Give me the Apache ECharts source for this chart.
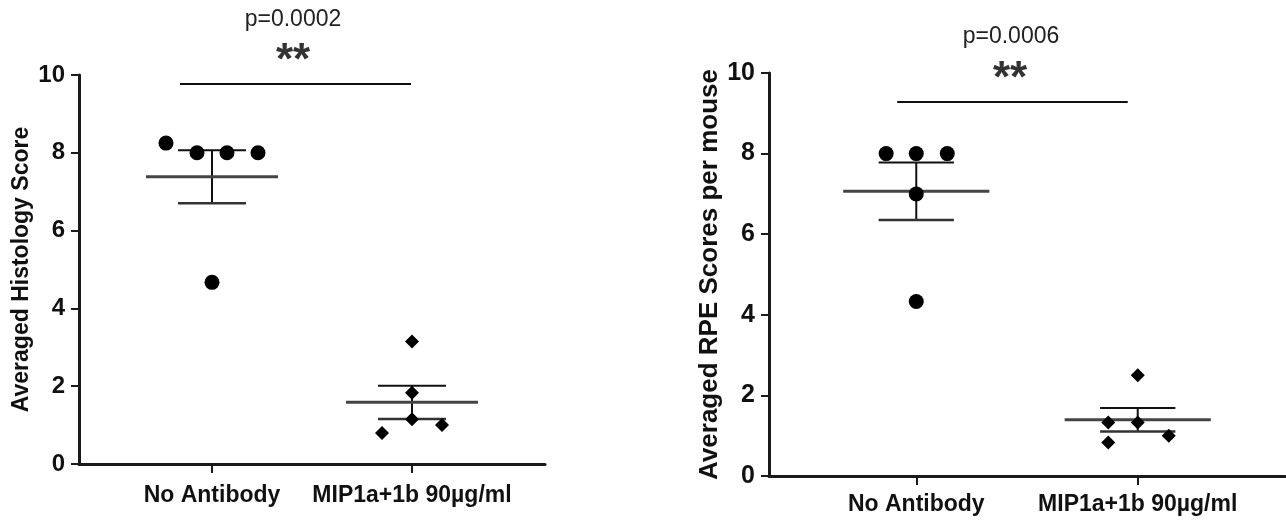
<!DOCTYPE html>
<html>
<head>
<meta charset="utf-8">
<script src="https://cdn.jsdelivr.net/npm/echarts@6/dist/echarts.min.js"></script>
<style>
html,body{margin:0;padding:0;background:#fff;}
#chart{width:1286px;height:521px;}
</style>
</head>
<body>
<div id="chart"></div>
<script>
// ---- data ----
const categories = ['No Antibody', 'MIP1a+1b 90µg/ml'];
const yTicks = [0, 2, 4, 6, 8, 10];

// Left panel: Averaged Histology Score
const histNoAb = [8.25, 8, 8, 8, 4.67];
const histNoAbJitter = [-0.23, -0.075, 0.075, 0.23, 0];
const histMIP = [3.15, 1.83, 1.15, 0.8, 1.0];
const histMIPJitter = [0, 0, 0, -0.15, 0.15];
const histP = 'p=0.0002';
const histBracketX = [0.84, 1.995];
const histBracketY = 9.77;

// Right panel: Averaged RPE Scores per mouse
const rpeNoAb = [8, 8, 8, 7, 4.33];
const rpeNoAbJitter = [-0.136, 0, 0.14, 0, 0];
const rpeMIP = [2.5, 1.33, 1.33, 0.83, 1.0];
const rpeMIPJitter = [0, -0.133, 0, -0.133, 0.14];
const rpeP = 'p=0.0006';
const rpeBracketX = [0.914, 1.955];
const rpeBracketY = 9.28;

// ---- helpers ----
function mean(a){ return a.reduce((s,v)=>s+v,0)/a.length; }
function sem(a){
  const m = mean(a);
  const v = a.reduce((s,x)=>s+(x-m)*(x-m),0)/(a.length-1);
  return Math.sqrt(v/a.length);
}
function pts(vals, jit, catIdx){
  return vals.map((v,i)=>[catIdx+1+jit[i], v]);
}
const FONT = "'Liberation Sans', Arial, sans-serif";
const AX = '#1a1a1a';

function renderMeanSem(params, api){
  const x = api.value(0), m = api.value(1), s = api.value(2);
  const hm = 0.33, hc = 0.17;
  const a = api.coord([x-hm, m]), b = api.coord([x+hm, m]);
  const t = api.coord([x, m+s]), u = api.coord([x, m-s]);
  const tl = api.coord([x-hc, m+s]), tr = api.coord([x+hc, m+s]);
  const bl = api.coord([x-hc, m-s]), br = api.coord([x+hc, m-s]);
  return {type:'group', children:[
    {type:'line', shape:{x1:t[0],y1:t[1],x2:u[0],y2:u[1]}, style:{stroke:'#111',lineWidth:2}},
    {type:'line', shape:{x1:tl[0],y1:tl[1],x2:tr[0],y2:tr[1]}, style:{stroke:'#111',lineWidth:2}},
    {type:'line', shape:{x1:bl[0],y1:bl[1],x2:br[0],y2:br[1]}, style:{stroke:'#333',lineWidth:2.5}},
    {type:'line', shape:{x1:a[0],y1:a[1],x2:b[0],y2:b[1]}, style:{stroke:'#444',lineWidth:3}}
  ]};
}

function xAxisCfg(gi, fs, margin){
  return {
    type:'value', gridIndex:gi, min:0.335, max:2.665,
    splitLine:{show:false},
    axisLine:{show:true, onZero:false, lineStyle:{color:AX, width:3}},
    axisTick:{show:true, customValues:[1,2], length:9, lineStyle:{color:AX, width:2}},
    axisLabel:{customValues:[1,2], formatter:(v)=>categories[Math.round(v)-1] || '',
      color:'#111', fontFamily:FONT, fontWeight:'bold', fontSize:fs, margin:margin}
  };
}
function yAxisCfg(gi, name, fs, nameFs, nameGap){
  return {
    type:'value', gridIndex:gi, min:0, max:10, interval:2,
    splitLine:{show:false},
    axisLine:{show:true, lineStyle:{color:AX, width:3}},
    axisTick:{show:true, length:8, lineStyle:{color:AX, width:2}},
    axisLabel:{color:'#111', fontFamily:FONT, fontWeight:'bold', fontSize:fs, margin:14,
      formatter:(v)=> yTicks.includes(v) ? String(v) : ''},
    name:name, nameLocation:'middle', nameGap:nameGap,
    nameTextStyle:{color:'#111', fontFamily:FONT, fontWeight:'bold', fontSize:nameFs}
  };
}

const chart = echarts.init(document.getElementById('chart'));
chart.setOption({
  animation:false,
  backgroundColor:'#fff',
  grid:[
    {left:79, right:741, top:75, bottom:57},
    {left:769, right:1, top:73, bottom:45}
  ],
  xAxis:[xAxisCfg(0, 23, 20), xAxisCfg(1, 23, 17)],
  yAxis:[
    yAxisCfg(0, 'Averaged Histology Score', 24, 23, 46),
    yAxisCfg(1, 'Averaged RPE Scores per mouse', 25, 26, 43)
  ],
  graphic:[
    {type:'text', x:293, y:20, style:{text:histP, font:"23px "+FONT, fill:'#222', textAlign:'center', textVerticalAlign:'middle'}},
    {type:'text', x:293, y:62, style:{text:'**', font:"bold 44px "+FONT, fill:'#333', textAlign:'center', textVerticalAlign:'middle'}},
    {type:'text', x:1011, y:37, style:{text:rpeP, font:"23px "+FONT, fill:'#222', textAlign:'center', textVerticalAlign:'middle'}},
    {type:'text', x:1010, y:80, style:{text:'**', font:"bold 44px "+FONT, fill:'#333', textAlign:'center', textVerticalAlign:'middle'}}
  ],
  series:[
    {type:'custom', xAxisIndex:0, yAxisIndex:0, renderItem:renderMeanSem, z:1,
      data:[[1, mean(histNoAb), sem(histNoAb)], [2, mean(histMIP), sem(histMIP)]]},
    {type:'scatter', xAxisIndex:0, yAxisIndex:0, symbol:'circle', symbolSize:15, z:3,
      itemStyle:{color:'#000', opacity:1}, data:pts(histNoAb, histNoAbJitter, 0)},
    {type:'scatter', xAxisIndex:0, yAxisIndex:0, symbol:'diamond', symbolSize:14, z:3,
      itemStyle:{color:'#000', opacity:1}, data:pts(histMIP, histMIPJitter, 1)},
    {type:'line', xAxisIndex:0, yAxisIndex:0, symbol:'none', lineStyle:{color:'#111', width:2},
      data:[[histBracketX[0], histBracketY], [histBracketX[1], histBracketY]]},

    {type:'custom', xAxisIndex:1, yAxisIndex:1, renderItem:renderMeanSem, z:1,
      data:[[1, mean(rpeNoAb), sem(rpeNoAb)], [2, mean(rpeMIP), sem(rpeMIP)]]},
    {type:'scatter', xAxisIndex:1, yAxisIndex:1, symbol:'circle', symbolSize:15, z:3,
      itemStyle:{color:'#000', opacity:1}, data:pts(rpeNoAb, rpeNoAbJitter, 0)},
    {type:'scatter', xAxisIndex:1, yAxisIndex:1, symbol:'diamond', symbolSize:14, z:3,
      itemStyle:{color:'#000', opacity:1}, data:pts(rpeMIP, rpeMIPJitter, 1)},
    {type:'line', xAxisIndex:1, yAxisIndex:1, symbol:'none', lineStyle:{color:'#111', width:2},
      data:[[rpeBracketX[0], rpeBracketY], [rpeBracketX[1], rpeBracketY]]}
  ]
});
</script>
</body>
</html>
